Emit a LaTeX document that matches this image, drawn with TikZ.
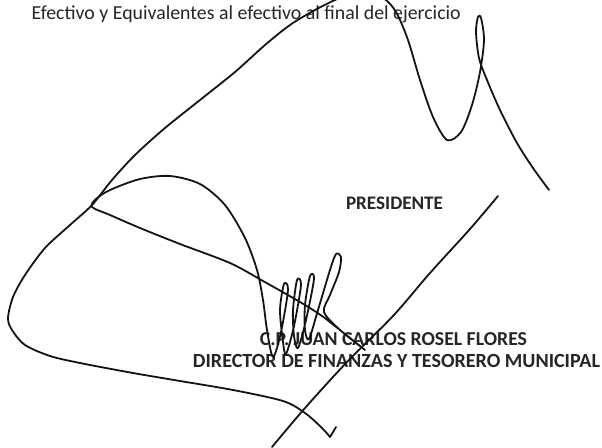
\documentclass[tikz,border=0pt]{standalone}
\usepackage{fontspec}
\setmainfont{Carlito}
\usepackage{graphicx}
\tikzset{
  sig/.style={line width=1.8pt, draw=black!92, line cap=round, line join=round},
  txt/.style={inner sep=0pt, text=black!85},
}
\begin{document}
\begin{tikzpicture}[x=1pt,y=-1pt]
\useasboundingbox (0,0) rectangle (602,447);
\fill[white] (0,0) rectangle (602,447);
% texts
\node[txt, anchor=base west] (efectivo) at (31.5,19.3) {\resizebox{429pt}{!}{\fontsize{18}{20}\selectfont Efectivo y Equivalentes al efectivo al final del ejercicio}};
\node[txt, anchor=base] (pres) at (394.5,209.5) {\resizebox{97pt}{!}{\fontsize{18}{20}\selectfont\bfseries PRESIDENTE}};
\node[txt, anchor=base] (nombre) at (393.5,345) {\resizebox{267pt}{!}{\fontsize{18}{20}\selectfont\bfseries C.P. JUAN CARLOS ROSEL FLORES}};
\node[txt, anchor=base] (cargo) at (396.5,367) {\resizebox{407pt}{!}{\fontsize{18}{20}\selectfont\bfseries DIRECTOR DE FINANZAS Y TESORERO MUNICIPAL}};
% signature strokes
\begin{scope}
\clip (0,0) rectangle (602,447);
\draw[sig] plot[smooth, tension=0.5] coordinates {(330,437)(322,428)(305,413)(283,401)(233,390)(180,381)(133,373)(80,363)(50,356)(25,345)(12,330)(8,318)(13,297)(25,275)(45,248)(70,225)(92,205)(112,180)(135,155)(165,128)(200,100)(235,72)(265,45)(290,25)(315,10)(340,-2)(362,-6)(383,-2)(396,12)(408,40)(420,80)(433,117)(447,140)(461,132)(472,105)(480,72)(484,40)(481,18)(478,17)(476,32)(479,58)(487,80)(500,110)(517,143)(533,168)(549,190)};
\draw[sig] (330,437) -- (336,427);
\draw[sig] plot[smooth, tension=0.5] coordinates {(365,350)(345,334)(322,316)(300,302)(263,281)(230,263)(180,244)(140,228)(110,215)(92,207)(96,199)(110,190)(140,179)(170,176)(200,184)(225,205)(245,238)(257,270)(263,300)(267,330)(273,357)(281,332)(288,290)(284,284)(280,310)(283,342)(286,354)(294,326)(301,285)(297,280)(293,310)(294,336)(298,348)(306,320)(314,279)(310,276)(305,305)(305,330)(309,339)(318,310)(330,270)(336,254)(341,257)(339,272)(330,295)(324,312)(340,330)(365,350)};
\draw[sig] plot[smooth, tension=0.5] coordinates {(498,196)(470,229)(430,273)(393,316)(347,362)(305,408)(272,447)};
\end{scope}
\end{tikzpicture}
\end{document}
